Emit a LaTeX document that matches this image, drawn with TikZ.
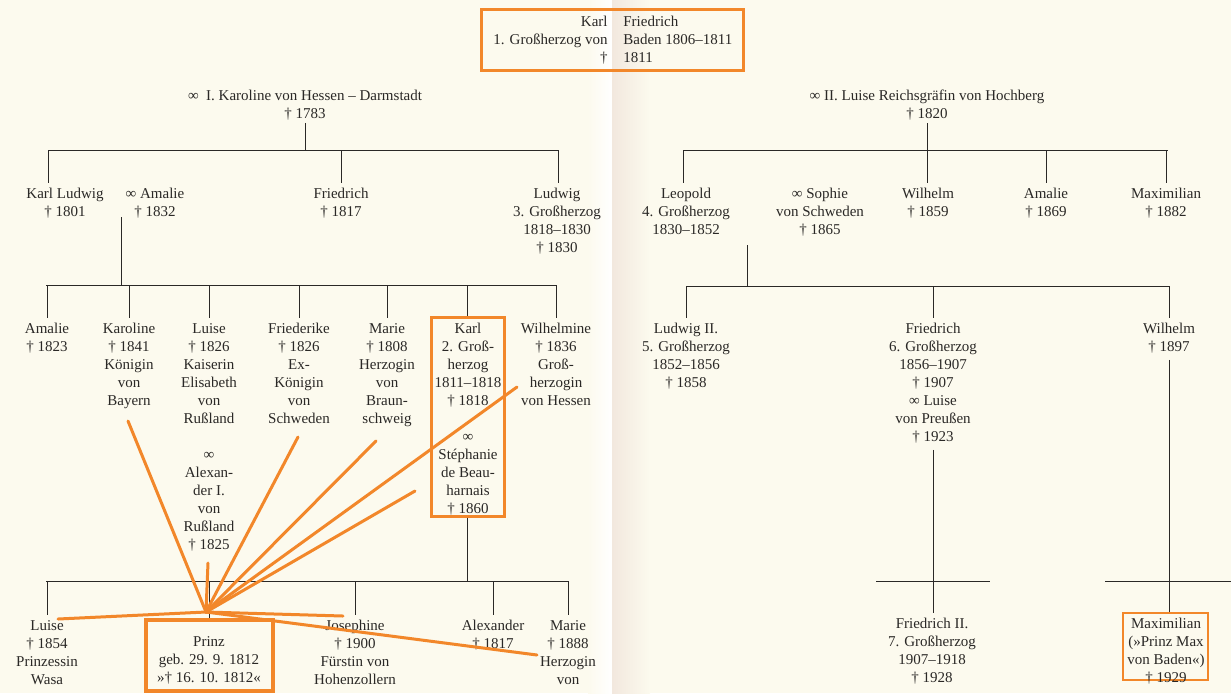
\documentclass[tikz,border=0pt]{standalone}
\usepackage{fontspec}
\setmainfont{Liberation Serif}
\usetikzlibrary{positioning}

\definecolor{paper}{RGB}{252,250,238}
\definecolor{gutter}{RGB}{242,232,222}
\definecolor{ink}{RGB}{42,40,38}
\definecolor{hlorange}{RGB}{242,135,42}

\tikzset{
  person/.style={align=center, inner sep=0pt, anchor=north, text=ink,
    font=\fontsize{7.5}{9}\selectfont},
  stem/.style={draw=ink, line width=0.5pt},
  drop/.style={stem, shorten >=2.5pt},
  hlframe/.style={draw=hlorange, line width=1.5pt, inner sep=0pt},
  hlline/.style={draw=hlorange, line width=1.5pt, line cap=round}
}

\begin{document}
\begin{tikzpicture}[x=0.5pt, y=-0.5pt]
\useasboundingbox (0,0) rectangle (1231,693);
\fill[paper] (0,0) rectangle (1231,693);
\shade[left color=paper, right color=white] (588,0) rectangle (612,693);
\shade[left color=gutter, right color=paper] (612,0) rectangle (650,693);

% Karl Friedrich
\node[hlframe, minimum width=131pt, minimum height=30.5pt] (topframe) at (612,39.5) {};
\node[person, align=right, anchor=north east] (karlfra) at (608,16) {Karl\\1. Großherzog von\\†};
\node[person, align=left, anchor=north west] (karlfrb) at (623,16) {Friedrich\\Baden 1806--1811\\1811};

\node[person] (hessen) at (305,90) {∞~~I. Karoline von Hessen -- Darmstadt\\† 1783};
\node[person] (hochberg) at (927,90) {∞ II. Luise Reichsgräfin von Hochberg\\† 1820};

% children of the first marriage
\node[person] (kludwig) at (65,188) {Karl Ludwig\\† 1801};
\node[person] (amalie1) at (155,188) {∞ Amalie\\† 1832};
\node[person] (friedrich1) at (341,188) {Friedrich\\† 1817};
\node[person] (ludwig1) at (557,188) {Ludwig\\3. Großherzog\\1818--1830\\† 1830};

% children of the second marriage
\node[person] (leopold) at (686,188) {Leopold\\4. Großherzog\\1830--1852};
\node[person] (sophie) at (820,188) {∞ Sophie\\von Schweden\\† 1865};
\node[person] (wilhelm1) at (928,188) {Wilhelm\\† 1859};
\node[person] (amalie3) at (1046,188) {Amalie\\† 1869};
\node[person] (maxim1) at (1166,188) {Maximilian\\† 1882};

% grandchildren, Karl Ludwig
\node[person] (amalie2) at (47,323) {Amalie\\† 1823};
\node[person] (karoline) at (129,323) {Karoline\\† 1841\\Königin\\von\\Bayern};
\node[person] (luise1) at (209,323) {Luise\\† 1826\\Kaiserin\\Elisabeth\\von\\Rußland\\[9pt]∞\\Alexan-\\der I.\\von\\Rußland\\† 1825};
\node[person] (friederike) at (299,323) {Friederike\\† 1826\\Ex-\\Königin\\von\\Schweden};
\node[person] (marie1) at (387,323) {Marie\\† 1808\\Herzogin\\von\\Braun-\\schweig};
\node[hlframe, minimum width=36.5pt, minimum height=99.5pt] (karlframe) at (467.5,416.5) {};
\node[person] (karl) at (468,323) {Karl\\2. Groß-\\herzog\\1811--1818\\† 1818\\[9pt]∞\\Stéphanie\\de Beau-\\harnais\\† 1860};
\node[person] (wilhelmine) at (556,323) {Wilhelmine\\† 1836\\Groß-\\herzogin\\von Hessen};

% grandchildren, Leopold
\node[person] (ludwig2) at (686,323) {Ludwig II.\\5. Großherzog\\1852--1856\\† 1858};
\node[person] (friedrich6) at (933,323) {Friedrich\\6. Großherzog\\1856--1907\\† 1907\\∞ Luise\\von Preußen\\† 1923};
\node[person] (wilhelm2) at (1169,323) {Wilhelm\\† 1897};

% great-grandchildren
\node[person] (luise2) at (47,620) {Luise\\† 1854\\Prinzessin\\Wasa};
\node[hlframe, line width=2.4pt, minimum width=63.5pt, minimum height=35.5pt] (prinzframe) at (209.5,655.5) {};
\node[person] (prinz) at (209,636) {Prinz\\geb. 29. 9. 1812\\»† 16. 10. 1812«};
\node[person] (josephine) at (355,620) {Josephine\\† 1900\\Fürstin von\\Hohenzollern};
\node[person] (alexander2) at (493,620) {Alexander\\† 1817};
\node[person] (marie2) at (568,620) {Marie\\† 1888\\Herzogin\\von};
\node[person] (friedrich2) at (932,618) {Friedrich II.\\7. Großherzog\\1907--1918\\† 1928};
\node[hlframe, line width=1.1pt, minimum width=42.5pt, minimum height=33.5pt] (maxframe) at (1165.5,646.5) {};
\node[person] (maxim2) at (1166,618) {Maximilian\\(»Prinz Max\\von Baden«)\\† 1929};

% first marriage
\coordinate (bar1w) at (48,150);
\coordinate (bar1e) at (558,150);
\draw[stem, shorten <=1pt] (hessen.south) -- (hessen.south |- bar1w);
\draw[stem] (bar1w) -- (bar1e);
\draw[drop] (bar1w) -- (kludwig.north -| bar1w);
\draw[drop] (friedrich1.north |- bar1w) -- (friedrich1.north);
\draw[drop] (bar1e) -- (ludwig1.north -| bar1e);

% Karl Ludwig oo Amalie
\coordinate (pair1) at (121,217);
\coordinate (bar2w) at (46,285);
\coordinate (bar2e) at (556,285);
\draw[stem] (pair1) -- (pair1 |- bar2w);
\draw[stem] (bar2w) -- (bar2e);
\foreach \c in {amalie2,karoline,luise1,friederike,marie1,wilhelmine}
  \draw[drop] (\c.north |- bar2w) -- (\c.north);
\draw[stem] (karlframe.north |- bar2w) -- (karlframe.north);

% Karl oo Stephanie
\coordinate (bar3w) at (46,581);
\coordinate (bar3e) at (568,581);
\draw[stem] (karlframe.south) -- (karlframe.south |- bar3w);
\draw[stem] (bar3w) -- (bar3e);
\foreach \c in {luise2,josephine,alexander2,marie2}
  \draw[drop] (\c.north |- bar3w) -- (\c.north);
\draw[stem] (prinzframe.north |- bar3w) -- (prinzframe.north);

% second marriage
\coordinate (bar4w) at (683,150);
\coordinate (bar4e) at (1168,150);
\draw[drop, shorten <=1pt] (hochberg.south) -- (hochberg.south |- wilhelm1.north);
\draw[stem] (bar4w) -- (bar4e);
\draw[drop] (bar4w) -- (leopold.north -| bar4w);
\foreach \c in {amalie3,maxim1}
  \draw[drop] (\c.north |- bar4w) -- (\c.north);

% Leopold oo Sophie
\coordinate (pair2) at (747,245);
\coordinate (bar5w) at (686,286);
\coordinate (bar5e) at (1169,286);
\draw[stem] (pair2) -- (pair2 |- bar5w);
\draw[stem] (bar5w) -- (bar5e);
\foreach \c in {ludwig2,friedrich6,wilhelm2}
  \draw[drop] (\c.north |- bar5w) -- (\c.north);

% Friedrich -> Friedrich II., Wilhelm -> Maximilian
\coordinate (cross1w) at (876,581);
\coordinate (cross1e) at (990,581);
\coordinate (cross2w) at (1105,581);
\coordinate (cross2e) at (1231,581);
\draw[drop, shorten <=3pt] (friedrich6.south) -- (friedrich6.south |- friedrich2.north);
\draw[stem] (cross1w) -- (cross1e);
\draw[stem, shorten <=3pt] (wilhelm2.south) -- (wilhelm2.south |- maxframe.north);
\draw[stem] (cross2w) -- (cross2e);

% orange rays to the Prinz
\coordinate (hub) at (206,612);
\foreach \n/\p in {karoline/{128,421}, friederike/{298,437}, marie/{376,441},
    wilhelmine/{517,387}, stephanie/{415,491}, alexander/{208,563},
    luise/{58,619}, josephine/{343,616}, marieb/{537,655}}
  \coordinate (ray\n) at (\p);
\foreach \n in {karoline,friederike,marie,wilhelmine,stephanie,alexander,luise,josephine,marieb}
  \draw[hlline] (hub) -- (ray\n);
\end{tikzpicture}
\end{document}
